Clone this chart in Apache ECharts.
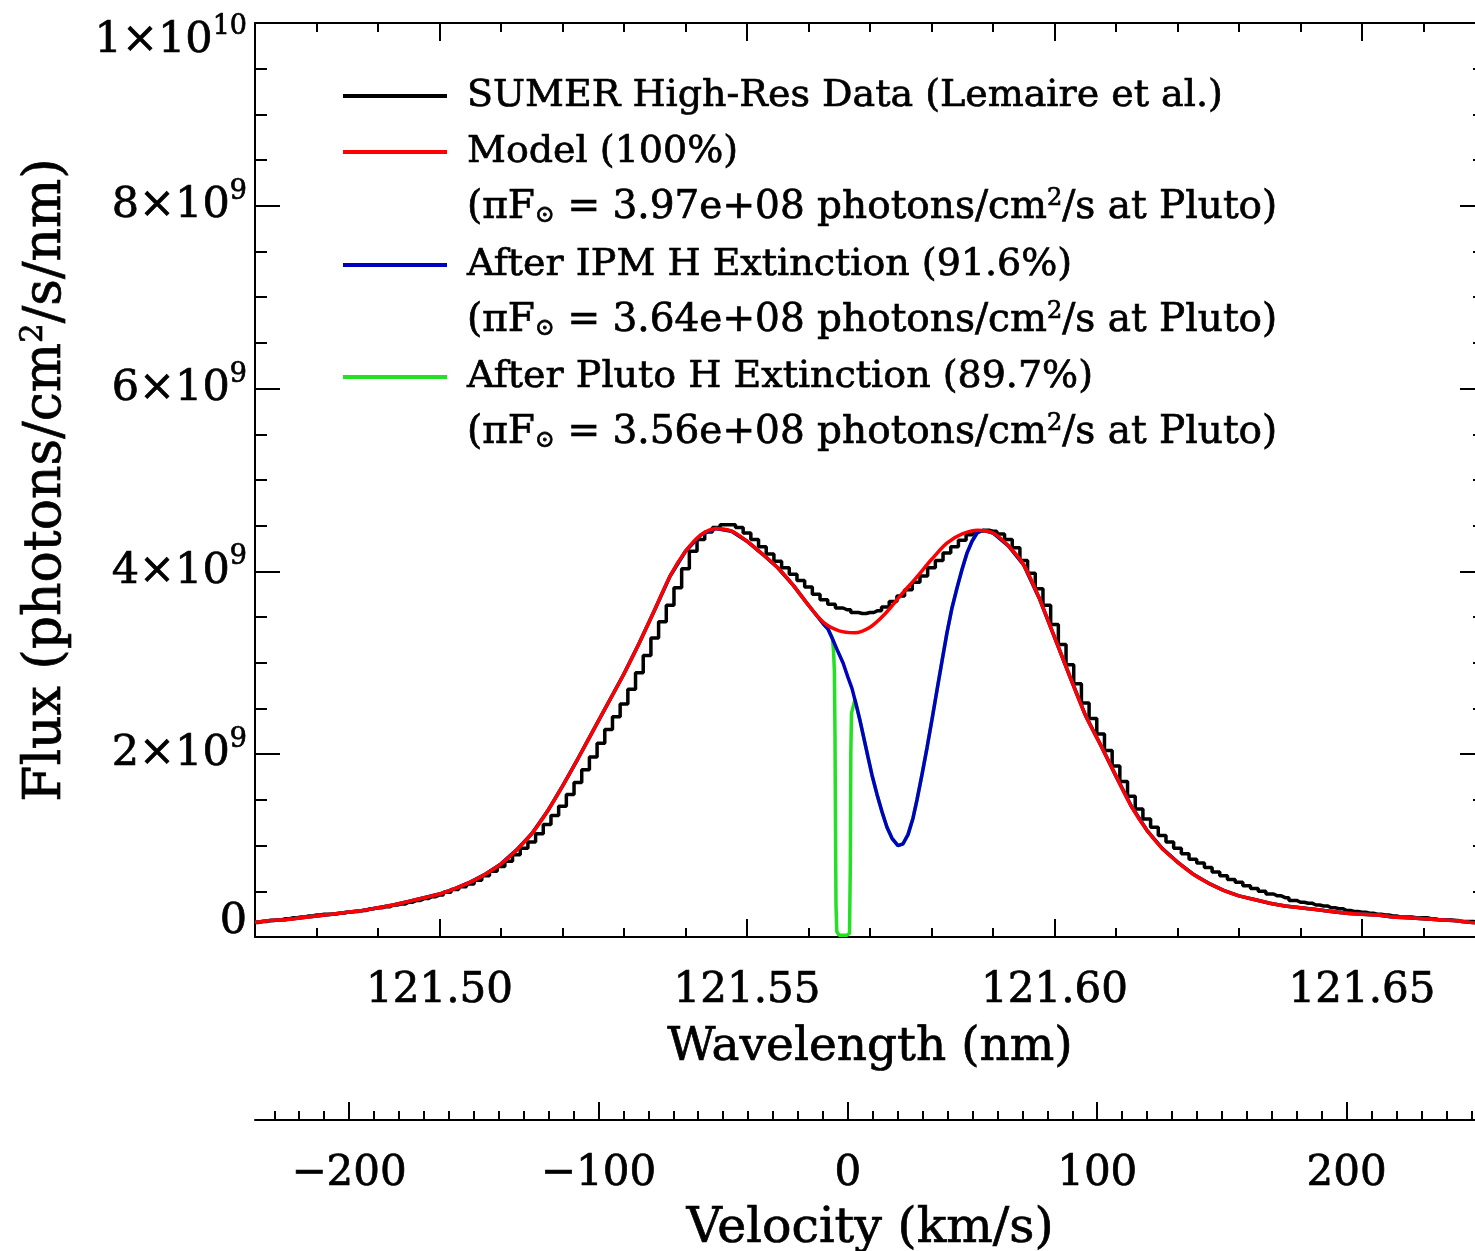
<!DOCTYPE html>
<html><head><meta charset="utf-8">
<script src="https://cdn.jsdelivr.net/npm/echarts@6/dist/echarts.min.js"></script>
<style>html,body{margin:0;padding:0;overflow:hidden;background:#fff}#c{width:1490px;height:1251px}</style>
</head><body><div id="c"></div>
<script>
// ---------------- DATA ----------------
const seriesNames = ['SUMER High-Res Data (Lemaire et al.)', 'Model (100%)', 'After IPM H Extinction (91.6%)', 'After Pluto H Extinction (89.7%)'];
const piFluxTexts = ['3.97e+08', '3.64e+08', '3.56e+08'];
const xTickLabels = ['121.50', '121.55', '121.60', '121.65'];
const velTickLabels = ['\u2212200', '\u2212100', '0', '100', '200'];
const yTickLabels = ['0', '2\u00d710^9', '4\u00d710^9', '6\u00d710^9', '8\u00d710^9', '1\u00d710^10'];
const velocityTitle = 'Velocity (km/s)';

// SUMER data (flux in 1e9 photons/cm2/s/nm), bins starting at 121.470 nm
const blackStart = 121.47, blackBin = 0.00125;
const blackFlux = [0.16,0.17,0.18,0.19,0.20,0.21,0.22,0.23,0.24,0.25,
 0.25,0.26,0.27,0.28,0.29,0.31,0.32,0.33,0.35,0.36,
 0.38,0.40,0.42,0.44,0.46,0.49,0.52,0.55,0.58,0.62,
 0.67,0.72,0.77,0.83,0.90,0.97,1.04,1.13,1.23,1.33,
 1.43,1.56,1.69,1.83,1.97,2.12,2.27,2.41,2.55,2.71,
 2.89,3.08,3.27,3.45,3.63,3.82,4.03,4.22,4.35,4.43,
 4.48,4.51,4.51,4.48,4.42,4.35,4.27,4.19,4.11,4.04,
 3.97,3.90,3.83,3.75,3.69,3.64,3.60,3.58,3.55,3.54,
 3.55,3.57,3.61,3.67,3.73,3.80,3.88,3.95,4.04,4.12,
 4.20,4.27,4.34,4.40,4.44,4.45,4.44,4.41,4.35,4.26,
 4.12,3.98,3.81,3.63,3.42,3.20,2.98,2.77,2.56,2.39,
 2.22,2.04,1.87,1.70,1.54,1.40,1.29,1.20,1.11,1.04,
 0.97,0.91,0.85,0.81,0.76,0.71,0.67,0.63,0.60,0.56,
 0.53,0.50,0.47,0.45,0.43,0.40,0.38,0.37,0.35,0.34,
 0.32,0.31,0.29,0.28,0.27,0.26,0.25,0.24,0.23,0.22,
 0.22,0.21,0.21,0.20,0.19,0.19,0.18,0.17,0.17,0.16,
 0.16];

// Model (100%) sampled every 0.0025 nm from 121.470 nm
const redStart = 121.47, redStep = 0.0025;
const redFlux = [0.16,0.18,0.19,0.21,0.23,0.25,0.27,0.29,0.32,0.35,
 0.39,0.43,0.47,0.53,0.60,0.69,0.80,0.95,1.13,1.37,
 1.65,1.95,2.26,2.57,2.88,3.22,3.58,3.95,4.22,4.40,
 4.47,4.44,4.33,4.19,4.04,3.85,3.63,3.44,3.35,3.33,
 3.39,3.54,3.74,3.93,4.13,4.31,4.41,4.45,4.42,4.28,
 4.07,3.71,3.28,2.85,2.43,2.10,1.76,1.43,1.17,0.97,
 0.82,0.69,0.59,0.51,0.45,0.41,0.37,0.34,0.32,0.30,
 0.28,0.26,0.25,0.24,0.22,0.21,0.20,0.19,0.18,0.16,
 0.15];

// After IPM extinction: where it departs from the model
const blueDipLambda = [121.56236,121.56317,121.56398,121.56480,121.56561,121.56642,121.56707,121.56772,121.56837,121.56902,
 121.56967,121.57033,121.57114,121.57195,121.57276,121.57358,121.57455,121.57537,121.57618,121.57699,
 121.57764,121.57846,121.57927,121.58008,121.58089,121.58171,121.58252,121.58333,121.58415,121.58496,
 121.58577,121.58659,121.58740,121.58837,121.58951];
const blueDipFlux = [3.43,3.37,3.25,3.12,3.00,2.84,2.72,2.55,2.37,2.17,
 1.97,1.77,1.56,1.37,1.20,1.08,1.00,1.02,1.12,1.30,
 1.50,1.78,2.07,2.38,2.70,3.02,3.33,3.60,3.82,4.02,
 4.20,4.33,4.42,4.45,4.43];

// After Pluto extinction: where it departs from the IPM curve
const greenDipLambda = [121.56389,121.56408,121.56421,121.56431,121.56439,121.56447,121.56460,121.56496,121.56626,121.56667,121.56680,121.56688,121.56699,121.56756];
const greenDipFlux = [3.27,3.12,2.90,2.20,1.20,0.35,0.06,0.02,0.02,0.04,0.80,2.00,2.45,2.60];

// ---------------- BUILD ----------------
const FONT = 'DejaVu Serif';
const LAM_MIN = 121.47, LAM_MAX = 121.67;
const LAM0 = 121.5664, C_KMS = 299792.458;
const G_LEFT = 255, G_TOP = 23, G_W = 1230, G_H = 914;
const xL = l => G_LEFT + (l - LAM_MIN) / (LAM_MAX - LAM_MIN) * G_W;
const xV = v => xL(LAM0 * (1 + v / C_KMS));

const blackPts = blackFlux.map((v, i) => [blackStart + i * blackBin, v]);
const redPts = redFlux.map((v, i) => [redStart + i * redStep, v]);
function splice(base, lam, flux) {
  const lo = lam[0], hi = lam[lam.length - 1];
  return base.filter(p => p[0] < lo || p[0] > hi)
    .concat(lam.map((l, i) => [l, flux[i]]))
    .sort((a, b) => a[0] - b[0]);
}
const bluePts = splice(redPts, blueDipLambda, blueDipFlux);
const greenPts = splice(bluePts, greenDipLambda, greenDipFlux);

const colors = ['#000000', '#ff0000', '#0000c0', '#22e022'];
const ALS = { color: '#000', width: 2 };
const TLS = { color: '#000', width: 2 };
const LW = 3.5;
// slightly heavier glyph strokes, like the vector font of the original
const INK = { color: '#000', textBorderColor: '#000', textBorderWidth: 0.7 };
const txt = (size, extra) => Object.assign({ fontFamily: FONT, fontSize: size, fontWeight: 'normal' }, INK, extra || {});

function yLabel(v, idx) {
  const s = yTickLabels[idx];
  if (s === undefined) return '';
  const parts = s.split('^');
  if (parts.length === 1) return '{z|' + s + '}';
  if (idx === yTickLabels.length - 1) return '{t|' + parts[0] + '}{ts|' + parts[1] + '}';
  return '{b|' + parts[0] + '}{s|' + parts[1] + '}';
}

const legendTops = [76, 132, 245, 357];
const piTops = [188, 301, 413];

const richLine = {
  t: txt(39, { lineHeight: 40 }),
  sub: txt(24, { lineHeight: 24, padding: [16, 0, 0, 0] }),
  sup: txt(24, { lineHeight: 24, padding: [0, 0, 18, 0] })
};

const titles = piFluxTexts.map((t, i) => ({
  text: '{t|(\u03c0F}{sub|\u2299}{t| = ' + t + ' photons/cm}{sup|2}{t|/s at Pluto)}',
  left: 467, top: piTops[i], padding: 0,
  textStyle: txt(39, { rich: richLine })
}));
// velocity axis title, centred under the velocity axis
titles.push({ text: velocityTitle, left: xL((LAM_MIN + LAM_MAX) / 2), top: 1205, textAlign: 'center', padding: 0,
  textStyle: txt(49, { lineHeight: 49 }) });

const option = {
  animation: false,
  backgroundColor: '#fff',
  textStyle: { fontFamily: FONT },
  grid: [
    { left: G_LEFT, top: G_TOP, width: G_W, height: G_H, outerBoundsMode: 'none', containLabel: false },
    { left: xL(121.50), top: G_TOP, width: xL(121.70) - xL(121.50), height: G_H, outerBoundsMode: 'none', containLabel: false },
    { left: G_LEFT, top: 1110, width: G_W, height: 10, outerBoundsMode: 'none', containLabel: false },
    { left: xV(-230), top: 1110, width: xV(260) - xV(-230), height: 10, outerBoundsMode: 'none', containLabel: false },
    { left: xV(-200), top: 1110, width: xV(300) - xV(-200), height: 10, outerBoundsMode: 'none', containLabel: false }
  ],
  xAxis: [
    { gridIndex: 0, type: 'value', position: 'bottom', min: LAM_MIN, max: LAM_MAX, interval: 0.01,
      axisLine: { show: true, onZero: false, lineStyle: ALS },
      axisTick: { show: true, inside: true, length: 9, lineStyle: TLS },
      axisLabel: { show: false }, splitLine: { show: false },
      name: 'Wavelength (nm)', nameLocation: 'middle', nameGap: 87, nameMoveOverlap: false,
      nameTextStyle: txt(47) },
    { gridIndex: 0, type: 'value', position: 'top', min: LAM_MIN, max: LAM_MAX, interval: 0.01,
      axisLine: { show: true, onZero: false, lineStyle: ALS },
      axisTick: { show: true, inside: true, length: 9, lineStyle: TLS },
      axisLabel: { show: false }, splitLine: { show: false } },
    { gridIndex: 1, type: 'value', position: 'bottom', min: 121.50, max: 121.70, interval: 0.05,
      axisLine: { show: false, onZero: false },
      axisTick: { show: true, inside: true, length: 18, lineStyle: TLS },
      axisLabel: Object.assign(txt(42), { show: true, margin: 33, showMinLabel: true, showMaxLabel: true,
        formatter: (v, i) => xTickLabels[i] || '' }),
      splitLine: { show: false } },
    { gridIndex: 1, type: 'value', position: 'top', min: 121.50, max: 121.70, interval: 0.05,
      axisLine: { show: false, onZero: false },
      axisTick: { show: true, inside: true, length: 18, lineStyle: TLS },
      axisLabel: { show: false }, splitLine: { show: false } },
    { gridIndex: 2, type: 'value', position: 'bottom', min: LAM_MIN, max: LAM_MAX,
      axisLine: { show: true, onZero: false, lineStyle: ALS },
      axisTick: { show: false }, axisLabel: { show: false }, splitLine: { show: false } },
    { gridIndex: 3, type: 'value', position: 'bottom', min: -230, max: 260, interval: 10,
      axisLine: { show: false, onZero: false },
      axisTick: { show: true, inside: true, length: 9, lineStyle: TLS },
      axisLabel: { show: false }, splitLine: { show: false } },
    { gridIndex: 4, type: 'value', position: 'bottom', min: -200, max: 300, interval: 100,
      axisLine: { show: false, onZero: false },
      axisTick: { show: true, inside: true, length: 18, lineStyle: TLS },
      axisLabel: Object.assign(txt(42), { show: true, margin: 33, showMinLabel: true, showMaxLabel: true,
        formatter: (v, i) => velTickLabels[i] || '' }),
      splitLine: { show: false } }
  ],
  yAxis: [
    { gridIndex: 0, type: 'value', position: 'left', min: 0, max: 10, interval: 2,
      axisLine: { show: true, onZero: false, lineStyle: ALS },
      axisTick: { show: true, inside: true, length: 25, lineStyle: TLS },
      minorTick: { show: true, splitNumber: 4, length: 12, lineStyle: TLS },
      splitLine: { show: false }, minorSplitLine: { show: false },
      axisLabel: { show: true, margin: 8, showMinLabel: true, showMaxLabel: true, formatter: yLabel,
        rich: {
          b: txt(43),
          s: txt(27, { padding: [0, 0, 28, 0] }),
          z: txt(43, { padding: [0, 0, 30, 0] }),
          t: txt(43, { padding: [36, 0, 0, 0] }),
          ts: txt(27, { padding: [36, 0, 28, 0] })
        } },
      name: '{n|Flux (photons/cm}{s|2}{n|/s/nm)}', nameLocation: 'middle', nameGap: 180, nameMoveOverlap: false,
      nameTextStyle: { rich: {
        n: txt(52),
        s: txt(31, { padding: [0, 0, 26, 0] })
      } } },
    { gridIndex: 0, type: 'value', position: 'right', min: 0, max: 10, interval: 2,
      axisLine: { show: true, onZero: false, lineStyle: ALS },
      axisTick: { show: true, inside: true, length: 25, lineStyle: TLS },
      minorTick: { show: true, splitNumber: 4, length: 12, lineStyle: TLS },
      splitLine: { show: false }, minorSplitLine: { show: false }, axisLabel: { show: false } },
    { gridIndex: 1, type: 'value', show: false, min: 0, max: 10 },
    { gridIndex: 2, type: 'value', show: false, min: 0, max: 1 },
    { gridIndex: 3, type: 'value', show: false, min: 0, max: 1 },
    { gridIndex: 4, type: 'value', show: false, min: 0, max: 1 }
  ],
  legend: seriesNames.map((n, i) => ({
    data: [n], left: 343, top: legendTops[i], padding: 0, orient: 'vertical',
    icon: 'rect', itemWidth: 104, itemHeight: 4, selectedMode: false,
    textStyle: txt(38, { lineHeight: 40, padding: [0, 0, 0, 15] })
  })),
  title: titles,
  series: [
    { name: seriesNames[0], type: 'line', xAxisIndex: 0, yAxisIndex: 0, step: 'middle', symbol: 'none', showSymbol: false,
      itemStyle: { color: colors[0] }, lineStyle: { color: colors[0], width: LW }, data: blackPts, z: 2 },
    { name: seriesNames[3], type: 'line', xAxisIndex: 0, yAxisIndex: 0, symbol: 'none', showSymbol: false,
      itemStyle: { color: colors[3] }, lineStyle: { color: colors[3], width: LW }, data: greenPts, z: 3 },
    { name: seriesNames[2], type: 'line', xAxisIndex: 0, yAxisIndex: 0, symbol: 'none', showSymbol: false,
      itemStyle: { color: colors[2] }, lineStyle: { color: colors[2], width: LW }, data: bluePts, z: 4 },
    { name: seriesNames[1], type: 'line', xAxisIndex: 0, yAxisIndex: 0, symbol: 'none', showSymbol: false, smooth: 0.3,
      itemStyle: { color: colors[1] }, lineStyle: { color: colors[1], width: LW }, data: redPts, z: 5 }
  ]
};

const chart = echarts.init(document.getElementById('c'), null, { renderer: 'canvas', width: 1490, height: 1251 });
chart.setOption(option);
</script>
</body></html>
